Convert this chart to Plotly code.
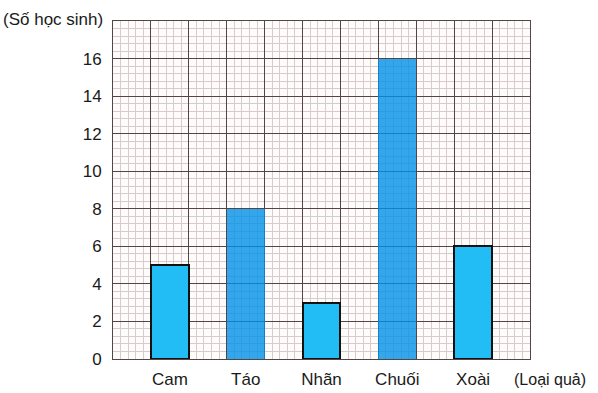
import plotly.graph_objects as go

categories = ["Cam", "Táo", "Nhãn", "Chuối", "Xoài"]
values = [5, 8, 3, 16, 6]
highlight = [False, True, False, True, False]
y_ticks = [0, 2, 4, 6, 8, 10, 12, 14, 16]

x_pos = [2 * i + 1.5 for i in range(len(categories))]
light = "#22BDF4"
dark = "rgba(0,145,232,0.8)"
colors = [dark if h else light for h in highlight]
line_w = [0 if h else 2 for h in highlight]

major = "#544444"
minor = "#d9cacd"
font_fam = "Liberation Sans, Arial, sans-serif"

fig = go.Figure()
fig.add_trace(go.Bar(
    x=x_pos, y=values, width=1,
    marker=dict(color=colors, line=dict(color="#111111", width=line_w)),
    xaxis="x", yaxis="y", hoverinfo="skip",
))
# invisible trace for category labels axis
fig.add_trace(go.Scatter(x=x_pos, y=values, mode="markers", marker=dict(opacity=0),
                         xaxis="x2", yaxis="y", showlegend=False, hoverinfo="skip"))

fig.update_layout(
    width=598, height=393,
    margin=dict(l=113, r=68, t=21, b=34, autoexpand=False),
    paper_bgcolor="white", plot_bgcolor="#fefbfb",
    showlegend=False, bargap=0,
    font=dict(family=font_fam, size=17, color="#1a1a1a"),
    xaxis=dict(range=[0, 11], tick0=0, dtick=1, showgrid=True, gridcolor=major, gridwidth=1,
               showticklabels=False, zeroline=False, showline=True, linecolor=major, mirror=True,
               minor=dict(dtick=0.2, tick0=0, showgrid=True, gridcolor=minor, gridwidth=1)),
    xaxis2=dict(range=[0, 11], overlaying="x", side="bottom", tickmode="array",
                tickvals=x_pos, ticktext=categories, showgrid=False, zeroline=False,
                ticklabelstandoff=8, tickfont=dict(size=17, color="#1a1a1a")),
    yaxis=dict(range=[0, 18], tickmode="array", tickvals=y_ticks,
               showgrid=True, gridcolor=major, gridwidth=1, zeroline=False,
               showline=True, linecolor=major, mirror=True, ticklabelstandoff=7,
               tickfont=dict(size=17, color="#1a1a1a"),
               minor=dict(dtick=0.4, tick0=0, showgrid=True, gridcolor=minor, gridwidth=1)),
    annotations=[
        dict(text="(Số học sinh)", xref="paper", yref="paper", x=-0.019, y=1.003,
             xanchor="right", yanchor="middle", showarrow=False, font=dict(size=17)),
        dict(text="(Loại quả)", xref="paper", yref="paper", x=0.957, y=-0.062,
             xanchor="left", yanchor="middle", showarrow=False, font=dict(size=16)),
    ],
)

fig.write_html("out.html", config={"displayModeBar": False},
               post_script="document.body.style.margin='0';document.body.style.overflow='hidden';")
